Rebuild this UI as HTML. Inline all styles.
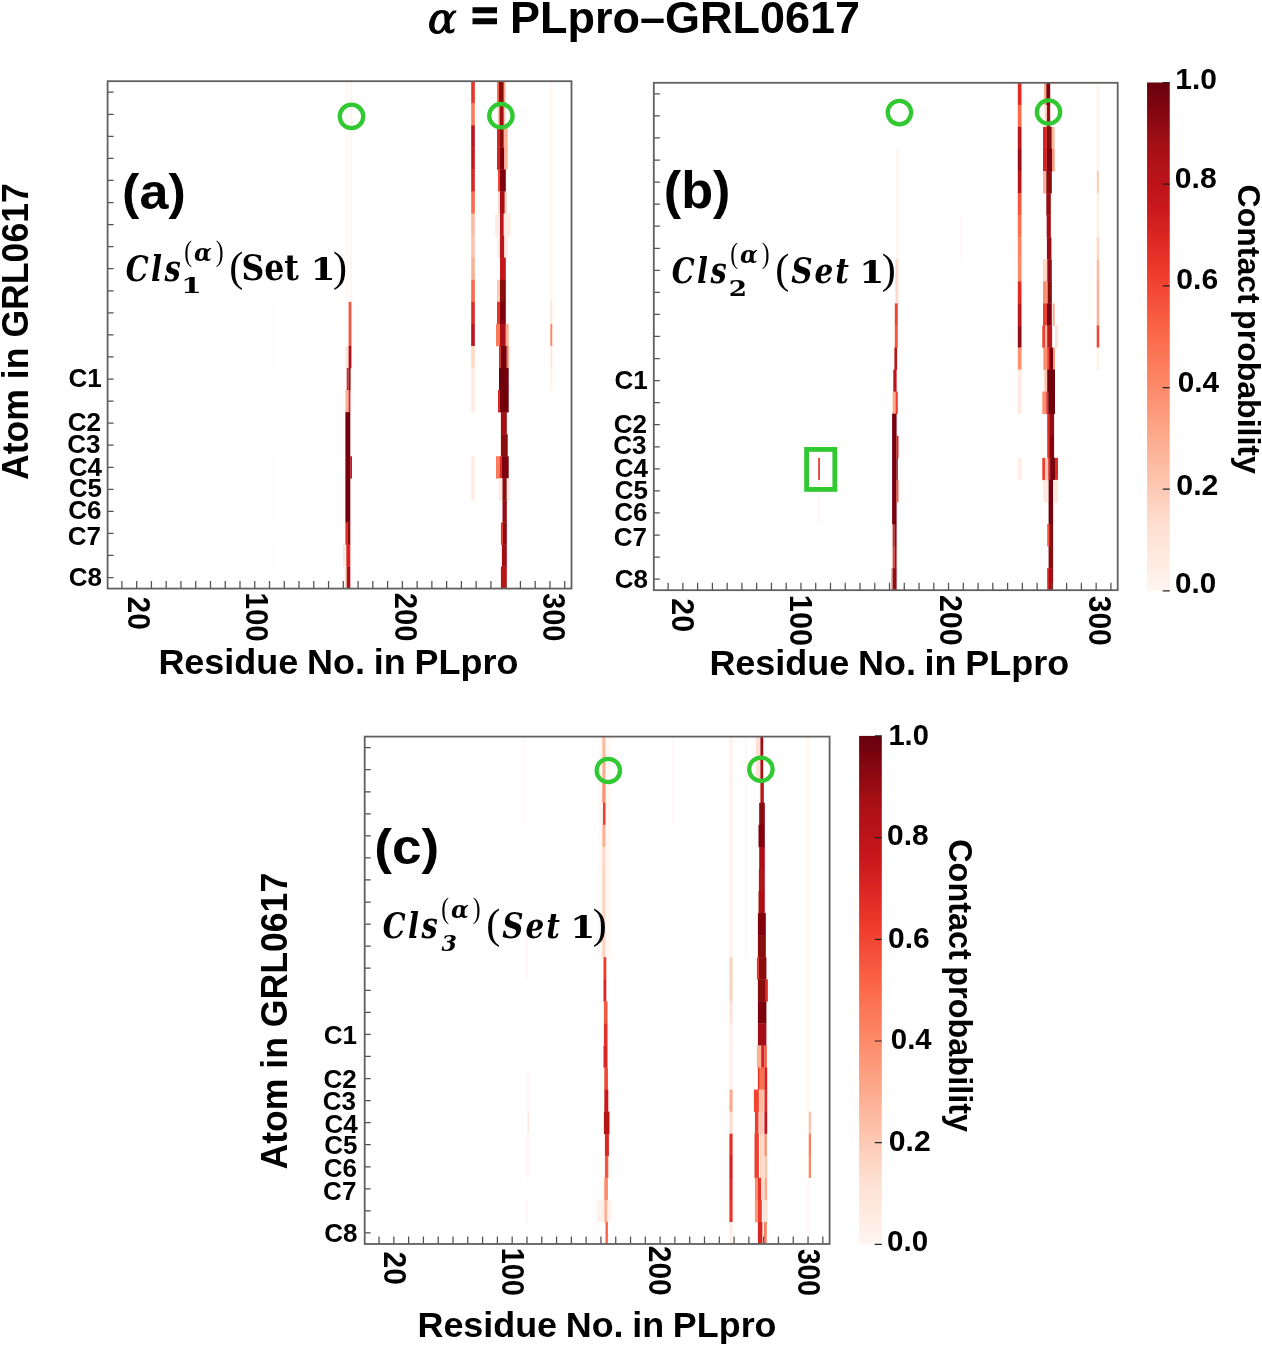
<!DOCTYPE html>
<html><head><meta charset="utf-8"><title>Contact probability maps</title>
<style>html,body{margin:0;padding:0;background:#fff}svg{display:block}text{white-space:pre}</style></head>
<body><svg width="1262" height="1345" viewBox="0 0 1262 1345">
<defs><filter id="soft" x="-5%" y="-1%" width="110%" height="102%"><feGaussianBlur stdDeviation="0.45 0.3"/></filter><linearGradient id="reds" x1="0" y1="0" x2="0" y2="1"><stop offset="0.000" stop-color="#67000d"/><stop offset="0.125" stop-color="#a50f15"/><stop offset="0.250" stop-color="#cb181d"/><stop offset="0.375" stop-color="#ef3b2c"/><stop offset="0.500" stop-color="#fb6a4a"/><stop offset="0.625" stop-color="#fc9272"/><stop offset="0.750" stop-color="#fcbba1"/><stop offset="0.875" stop-color="#fee0d2"/><stop offset="1.000" stop-color="#fff5f0"/></linearGradient></defs>
<rect width="1262" height="1345" fill="#fff"/>
<g filter="url(#soft)">
<rect x="346.00" y="81.20" width="2.00" height="220.95" fill="#fff8f4"/>
<rect x="350.00" y="81.20" width="2.50" height="220.95" fill="#fff6f2"/>
<rect x="348.60" y="301.80" width="2.80" height="22.41" fill="#f6573e"/>
<rect x="348.60" y="323.86" width="2.80" height="22.41" fill="#f6573e"/>
<rect x="345.60" y="345.92" width="3.00" height="22.41" fill="#fee4d8"/>
<rect x="348.60" y="345.92" width="2.80" height="22.41" fill="#ad1117"/>
<rect x="346.70" y="367.98" width="1.90" height="22.41" fill="#d92623"/>
<rect x="348.60" y="367.98" width="2.00" height="22.41" fill="#990c13"/>
<rect x="345.40" y="390.04" width="3.20" height="22.41" fill="#fcb196"/>
<rect x="348.60" y="390.04" width="1.80" height="22.41" fill="#d42021"/>
<rect x="345.40" y="412.10" width="4.90" height="110.65" fill="#76040f"/>
<rect x="350.30" y="456.22" width="1.70" height="22.41" fill="#c2161b"/>
<rect x="345.40" y="522.40" width="2.00" height="22.41" fill="#df2c25"/>
<rect x="347.40" y="522.40" width="2.90" height="22.41" fill="#8a0811"/>
<rect x="343.00" y="544.46" width="2.00" height="22.41" fill="#fee8dd"/>
<rect x="346.30" y="544.46" width="4.00" height="22.41" fill="#d92623"/>
<rect x="345.40" y="566.52" width="1.40" height="22.06" fill="#fcbba1"/>
<rect x="346.80" y="566.52" width="3.50" height="22.06" fill="#ad1117"/>
<rect x="471.20" y="81.20" width="3.60" height="22.41" fill="#e83429"/>
<rect x="471.20" y="103.26" width="3.60" height="22.41" fill="#fb7a5a"/>
<rect x="471.20" y="125.32" width="3.60" height="22.41" fill="#bc141a"/>
<rect x="471.20" y="147.38" width="3.60" height="22.41" fill="#c2161b"/>
<rect x="471.20" y="169.44" width="3.60" height="22.41" fill="#d92623"/>
<rect x="471.20" y="191.50" width="3.60" height="22.41" fill="#fb6a4a"/>
<rect x="471.20" y="213.56" width="3.60" height="22.41" fill="#fcbba1"/>
<rect x="471.20" y="235.62" width="3.60" height="22.41" fill="#fcc4ad"/>
<rect x="471.20" y="257.68" width="3.60" height="22.41" fill="#fcb196"/>
<rect x="471.20" y="279.74" width="3.60" height="22.41" fill="#fb6a4a"/>
<rect x="471.20" y="301.80" width="3.60" height="22.41" fill="#df2c25"/>
<rect x="471.20" y="323.86" width="3.60" height="22.41" fill="#bc141a"/>
<rect x="471.20" y="345.92" width="3.60" height="22.41" fill="#fed9c8"/>
<rect x="471.20" y="367.98" width="3.60" height="22.41" fill="#ffebe2"/>
<rect x="471.20" y="390.04" width="3.60" height="22.41" fill="#ffebe2"/>
<rect x="471.20" y="456.22" width="3.60" height="22.41" fill="#ffede4"/>
<rect x="471.20" y="478.28" width="3.60" height="22.41" fill="#ffede4"/>
<rect x="497.00" y="81.20" width="2.00" height="22.41" fill="#fb6a4a"/>
<rect x="499.00" y="81.20" width="4.80" height="22.41" fill="#8a0811"/>
<rect x="503.80" y="81.20" width="1.70" height="22.41" fill="#fcab8e"/>
<rect x="497.50" y="103.26" width="2.00" height="22.41" fill="#fdcab5"/>
<rect x="499.50" y="103.26" width="4.30" height="22.41" fill="#a30e15"/>
<rect x="503.80" y="103.26" width="1.70" height="22.41" fill="#fdcab5"/>
<rect x="497.00" y="125.32" width="3.00" height="22.41" fill="#d92623"/>
<rect x="500.00" y="125.32" width="3.80" height="22.41" fill="#8a0811"/>
<rect x="503.80" y="125.32" width="3.90" height="22.41" fill="#fcb196"/>
<rect x="497.00" y="147.38" width="3.00" height="22.41" fill="#d42021"/>
<rect x="500.00" y="147.38" width="4.40" height="22.41" fill="#800610"/>
<rect x="504.40" y="147.38" width="3.30" height="22.41" fill="#fcb196"/>
<rect x="498.00" y="169.44" width="2.00" height="22.41" fill="#f14432"/>
<rect x="500.00" y="169.44" width="5.80" height="22.41" fill="#800610"/>
<rect x="498.00" y="191.50" width="2.00" height="22.41" fill="#fed9c8"/>
<rect x="500.00" y="191.50" width="4.80" height="22.41" fill="#ad1117"/>
<rect x="504.80" y="191.50" width="2.20" height="22.41" fill="#fed9c8"/>
<rect x="495.00" y="213.56" width="5.00" height="22.41" fill="#ffede4"/>
<rect x="500.00" y="213.56" width="3.80" height="22.41" fill="#bc141a"/>
<rect x="503.80" y="213.56" width="6.80" height="22.41" fill="#ffede4"/>
<rect x="497.00" y="235.62" width="3.00" height="22.41" fill="#ffeee6"/>
<rect x="500.00" y="235.62" width="4.40" height="22.41" fill="#bc141a"/>
<rect x="504.40" y="235.62" width="3.60" height="22.41" fill="#ffeee6"/>
<rect x="500.00" y="257.68" width="5.80" height="22.41" fill="#c2161b"/>
<rect x="497.00" y="279.74" width="3.00" height="22.41" fill="#fdcab5"/>
<rect x="500.00" y="279.74" width="5.80" height="22.41" fill="#8a0811"/>
<rect x="497.00" y="301.80" width="3.00" height="22.41" fill="#e83429"/>
<rect x="500.00" y="301.80" width="5.80" height="22.41" fill="#800610"/>
<rect x="496.00" y="323.86" width="4.00" height="22.41" fill="#fb7a5a"/>
<rect x="500.00" y="323.86" width="5.80" height="22.41" fill="#ad1117"/>
<rect x="505.80" y="323.86" width="2.90" height="22.41" fill="#fcb196"/>
<rect x="499.00" y="345.92" width="1.90" height="22.41" fill="#d92623"/>
<rect x="500.90" y="345.92" width="5.90" height="22.41" fill="#76040f"/>
<rect x="506.80" y="345.92" width="1.90" height="22.41" fill="#fb7a5a"/>
<rect x="499.00" y="367.98" width="9.70" height="22.41" fill="#71020e"/>
<rect x="498.00" y="390.04" width="1.90" height="22.41" fill="#d92623"/>
<rect x="499.90" y="390.04" width="8.80" height="22.41" fill="#71020e"/>
<rect x="500.90" y="412.10" width="5.90" height="22.41" fill="#a30e15"/>
<rect x="500.90" y="434.16" width="6.80" height="22.41" fill="#8a0811"/>
<rect x="496.00" y="456.22" width="4.00" height="22.41" fill="#fb7a5a"/>
<rect x="500.00" y="456.22" width="1.90" height="22.41" fill="#d92623"/>
<rect x="501.90" y="456.22" width="6.80" height="22.41" fill="#7b0510"/>
<rect x="499.00" y="478.28" width="3.50" height="22.41" fill="#fee8dd"/>
<rect x="502.50" y="478.28" width="4.30" height="22.41" fill="#850711"/>
<rect x="506.80" y="478.28" width="3.20" height="22.41" fill="#fee8dd"/>
<rect x="502.50" y="500.34" width="4.30" height="22.41" fill="#990c13"/>
<rect x="500.90" y="522.40" width="2.00" height="22.41" fill="#e83429"/>
<rect x="502.90" y="522.40" width="3.90" height="22.41" fill="#8a0811"/>
<rect x="501.90" y="544.46" width="4.90" height="22.41" fill="#a30e15"/>
<rect x="500.90" y="566.52" width="5.90" height="22.06" fill="#b61319"/>
<rect x="550.30" y="81.20" width="2.00" height="22.41" fill="#fff5f0"/>
<rect x="550.30" y="103.26" width="2.00" height="22.41" fill="#fff5f0"/>
<rect x="550.30" y="125.32" width="2.00" height="22.41" fill="#fff5f0"/>
<rect x="550.30" y="147.38" width="2.00" height="22.41" fill="#fff5f0"/>
<rect x="550.30" y="169.44" width="2.00" height="22.41" fill="#fff5f0"/>
<rect x="550.30" y="191.50" width="2.00" height="22.41" fill="#fff5f0"/>
<rect x="550.30" y="213.56" width="2.00" height="22.41" fill="#fff5f0"/>
<rect x="550.30" y="235.62" width="2.00" height="22.41" fill="#fff5f0"/>
<rect x="550.30" y="257.68" width="2.00" height="22.41" fill="#fff5f0"/>
<rect x="550.30" y="279.74" width="2.00" height="22.41" fill="#fff5f0"/>
<rect x="550.30" y="301.80" width="2.00" height="22.41" fill="#fee4d8"/>
<rect x="550.30" y="323.86" width="2.00" height="22.41" fill="#fc8a6a"/>
<rect x="550.30" y="345.92" width="2.00" height="22.41" fill="#fee8dd"/>
<rect x="550.30" y="367.98" width="2.00" height="22.41" fill="#fff2eb"/>
<rect x="272.60" y="301.80" width="1.40" height="66.53" fill="#fff7f3"/>
<rect x="272.60" y="456.22" width="1.40" height="66.53" fill="#fff7f3"/>
<rect x="272.60" y="544.46" width="1.40" height="22.41" fill="#fff7f3"/>
</g>
<path d="M107.60 92.23h6M107.60 114.29h6M107.60 136.35h6M107.60 158.41h6M107.60 180.47h6M107.60 202.53h6M107.60 224.59h6M107.60 246.65h6M107.60 268.71h6M107.60 290.77h6M107.60 312.83h6M107.60 334.89h6M107.60 356.95h6M107.60 379.01h6M107.60 401.07h6M107.60 423.13h6M107.60 445.19h6M107.60 467.25h6M107.60 489.31h6M107.60 511.37h6M107.60 533.43h6M107.60 555.49h6M107.60 577.55h6M121.91 588.58v-7.5M136.67 588.58v-7.5M151.43 588.58v-7.5M166.19 588.58v-7.5M180.95 588.58v-7.5M195.71 588.58v-7.5M210.47 588.58v-7.5M225.23 588.58v-7.5M239.99 588.58v-7.5M254.75 588.58v-7.5M269.51 588.58v-7.5M284.27 588.58v-7.5M299.03 588.58v-7.5M313.79 588.58v-7.5M328.55 588.58v-7.5M343.31 588.58v-7.5M358.07 588.58v-7.5M372.83 588.58v-7.5M387.59 588.58v-7.5M402.35 588.58v-7.5M417.11 588.58v-7.5M431.87 588.58v-7.5M446.63 588.58v-7.5M461.39 588.58v-7.5M476.15 588.58v-7.5M490.91 588.58v-7.5M505.67 588.58v-7.5M520.43 588.58v-7.5M535.19 588.58v-7.5M549.95 588.58v-7.5M564.71 588.58v-7.5" stroke="#505050" stroke-width="1.25" fill="none"/>
<rect x="107.60" y="81.20" width="463.90" height="507.38" fill="none" stroke="#606060" stroke-width="1.8"/>
<circle cx="351.5" cy="116.4" r="11.7" fill="none" stroke="#31c931" stroke-width="4.3"/>
<circle cx="500.9" cy="115.7" r="11.7" fill="none" stroke="#31c931" stroke-width="4.3"/>
<g filter="url(#soft)">
<rect x="896.00" y="148.98" width="2.50" height="110.65" fill="#fff6f2"/>
<rect x="895.40" y="259.28" width="3.00" height="44.47" fill="#fed9c8"/>
<rect x="894.80" y="303.40" width="3.00" height="22.41" fill="#f14432"/>
<rect x="894.80" y="325.46" width="3.00" height="22.41" fill="#f6573e"/>
<rect x="894.40" y="347.52" width="2.70" height="22.41" fill="#b61319"/>
<rect x="893.30" y="369.58" width="3.30" height="22.41" fill="#bc141a"/>
<rect x="892.60" y="391.64" width="2.90" height="22.41" fill="#fcab8e"/>
<rect x="895.50" y="391.64" width="2.30" height="22.41" fill="#ef3d2d"/>
<rect x="892.10" y="413.70" width="4.50" height="110.65" fill="#76040f"/>
<rect x="896.60" y="435.76" width="1.90" height="22.41" fill="#d92623"/>
<rect x="896.60" y="457.82" width="1.20" height="22.41" fill="#990c13"/>
<rect x="896.60" y="479.88" width="1.90" height="22.41" fill="#f6573e"/>
<rect x="892.60" y="524.00" width="1.80" height="22.41" fill="#d92623"/>
<rect x="894.40" y="524.00" width="2.20" height="22.41" fill="#8a0811"/>
<rect x="892.60" y="546.06" width="1.80" height="22.41" fill="#ef3d2d"/>
<rect x="894.40" y="546.06" width="2.20" height="22.41" fill="#a30e15"/>
<rect x="891.00" y="568.12" width="1.60" height="22.06" fill="#fcab8e"/>
<rect x="892.60" y="568.12" width="4.00" height="22.06" fill="#8f0a12"/>
<rect x="1017.80" y="82.80" width="3.70" height="22.41" fill="#df2c25"/>
<rect x="1017.80" y="104.86" width="3.70" height="22.41" fill="#fb6a4a"/>
<rect x="1017.80" y="126.92" width="3.70" height="22.41" fill="#bc141a"/>
<rect x="1017.80" y="148.98" width="3.70" height="22.41" fill="#990c13"/>
<rect x="1017.80" y="171.04" width="3.70" height="22.41" fill="#b61319"/>
<rect x="1017.80" y="193.10" width="3.70" height="22.41" fill="#f6573e"/>
<rect x="1017.80" y="215.16" width="3.70" height="22.41" fill="#fb7050"/>
<rect x="1017.80" y="237.22" width="3.70" height="22.41" fill="#fc8464"/>
<rect x="1017.80" y="259.28" width="3.70" height="22.41" fill="#fc8a6a"/>
<rect x="1017.80" y="281.34" width="3.70" height="22.41" fill="#df2c25"/>
<rect x="1017.80" y="303.40" width="3.70" height="22.41" fill="#bc141a"/>
<rect x="1017.80" y="325.46" width="3.70" height="22.41" fill="#8f0a12"/>
<rect x="1017.80" y="347.52" width="3.70" height="22.41" fill="#fc9070"/>
<rect x="1017.80" y="369.58" width="3.70" height="22.41" fill="#ffebe2"/>
<rect x="1017.80" y="391.64" width="3.70" height="22.41" fill="#ffebe2"/>
<rect x="1017.80" y="457.82" width="3.70" height="22.41" fill="#ffeee6"/>
<rect x="1044.00" y="82.80" width="2.30" height="22.41" fill="#fcab8e"/>
<rect x="1046.30" y="82.80" width="3.90" height="22.41" fill="#800610"/>
<rect x="1044.50" y="104.86" width="2.40" height="22.41" fill="#fed9c8"/>
<rect x="1046.90" y="104.86" width="3.30" height="22.41" fill="#990c13"/>
<rect x="1043.00" y="126.92" width="3.90" height="22.41" fill="#d92623"/>
<rect x="1046.90" y="126.92" width="4.90" height="22.41" fill="#850711"/>
<rect x="1051.80" y="126.92" width="2.90" height="22.41" fill="#fcbba1"/>
<rect x="1043.00" y="148.98" width="3.90" height="22.41" fill="#d42021"/>
<rect x="1046.90" y="148.98" width="5.20" height="22.41" fill="#7b0510"/>
<rect x="1052.10" y="148.98" width="2.60" height="22.41" fill="#fc9a7b"/>
<rect x="1043.00" y="171.04" width="3.30" height="22.41" fill="#fcb196"/>
<rect x="1046.30" y="171.04" width="5.50" height="22.41" fill="#8a0811"/>
<rect x="1046.30" y="193.10" width="4.50" height="22.41" fill="#990c13"/>
<rect x="1046.70" y="215.16" width="4.10" height="22.41" fill="#a70f15"/>
<rect x="1046.90" y="237.22" width="4.50" height="22.41" fill="#990c13"/>
<rect x="1043.00" y="259.28" width="4.50" height="22.41" fill="#fed9c8"/>
<rect x="1047.30" y="259.28" width="4.50" height="22.41" fill="#940b13"/>
<rect x="1043.00" y="281.34" width="3.90" height="22.41" fill="#fc9070"/>
<rect x="1047.50" y="281.34" width="4.30" height="22.41" fill="#850711"/>
<rect x="1043.00" y="303.40" width="3.90" height="22.41" fill="#ef3d2d"/>
<rect x="1046.90" y="303.40" width="4.90" height="22.41" fill="#7b0510"/>
<rect x="1052.70" y="303.40" width="2.00" height="22.41" fill="#fcab8e"/>
<rect x="1042.30" y="325.46" width="2.90" height="22.41" fill="#ef3d2d"/>
<rect x="1045.20" y="325.46" width="2.00" height="22.41" fill="#fcbba1"/>
<rect x="1047.20" y="325.46" width="4.90" height="22.41" fill="#bc141a"/>
<rect x="1055.00" y="325.46" width="3.00" height="22.41" fill="#fee4d8"/>
<rect x="1043.30" y="347.52" width="3.90" height="22.41" fill="#fc9070"/>
<rect x="1047.20" y="347.52" width="2.00" height="22.41" fill="#ef3d2d"/>
<rect x="1049.20" y="347.52" width="3.90" height="22.41" fill="#7b0510"/>
<rect x="1053.10" y="347.52" width="1.90" height="22.41" fill="#fc9a7b"/>
<rect x="1044.30" y="369.58" width="2.90" height="22.41" fill="#fcc4ad"/>
<rect x="1047.20" y="369.58" width="7.80" height="22.41" fill="#71020e"/>
<rect x="1042.30" y="391.64" width="3.90" height="22.41" fill="#fc9070"/>
<rect x="1046.20" y="391.64" width="2.00" height="22.41" fill="#e83429"/>
<rect x="1048.20" y="391.64" width="6.80" height="22.41" fill="#71020e"/>
<rect x="1047.20" y="413.70" width="2.00" height="22.41" fill="#df2c25"/>
<rect x="1049.20" y="413.70" width="4.90" height="22.41" fill="#8f0a12"/>
<rect x="1047.20" y="435.76" width="2.00" height="22.41" fill="#e83429"/>
<rect x="1049.20" y="435.76" width="4.90" height="22.41" fill="#800610"/>
<rect x="1042.30" y="457.82" width="2.90" height="22.41" fill="#ef3d2d"/>
<rect x="1045.20" y="457.82" width="3.00" height="22.41" fill="#fdcab5"/>
<rect x="1048.20" y="457.82" width="1.90" height="22.41" fill="#df2c25"/>
<rect x="1050.10" y="457.82" width="4.90" height="22.41" fill="#76040f"/>
<rect x="1055.00" y="457.82" width="3.00" height="22.41" fill="#df2c25"/>
<rect x="1043.30" y="479.88" width="4.90" height="22.41" fill="#fee9df"/>
<rect x="1048.60" y="479.88" width="4.50" height="22.41" fill="#76040f"/>
<rect x="1053.10" y="479.88" width="4.90" height="22.41" fill="#fee9df"/>
<rect x="1048.60" y="501.94" width="4.50" height="22.41" fill="#76040f"/>
<rect x="1047.20" y="524.00" width="2.00" height="22.41" fill="#f6573e"/>
<rect x="1049.20" y="524.00" width="3.90" height="22.41" fill="#8a0811"/>
<rect x="1048.60" y="546.06" width="4.50" height="22.41" fill="#8a0811"/>
<rect x="1047.20" y="568.12" width="1.80" height="22.06" fill="#d92623"/>
<rect x="1049.00" y="568.12" width="4.10" height="22.06" fill="#a30e15"/>
<rect x="1096.70" y="82.80" width="2.50" height="22.41" fill="#fff3ee"/>
<rect x="1096.70" y="104.86" width="2.50" height="22.41" fill="#fff3ee"/>
<rect x="1096.70" y="126.92" width="2.50" height="22.41" fill="#fff3ee"/>
<rect x="1096.70" y="148.98" width="2.50" height="22.41" fill="#fff3ee"/>
<rect x="1096.70" y="171.04" width="2.50" height="22.41" fill="#fdd0bc"/>
<rect x="1096.70" y="193.10" width="2.50" height="22.41" fill="#fff0e9"/>
<rect x="1096.70" y="215.16" width="2.50" height="22.41" fill="#fff0e9"/>
<rect x="1096.70" y="237.22" width="2.50" height="22.41" fill="#fdd6c4"/>
<rect x="1096.70" y="259.28" width="2.50" height="22.41" fill="#fcbba1"/>
<rect x="1096.70" y="281.34" width="2.50" height="22.41" fill="#fcb196"/>
<rect x="1096.70" y="303.40" width="2.50" height="22.41" fill="#fcb196"/>
<rect x="1096.70" y="325.46" width="2.50" height="22.41" fill="#f14432"/>
<rect x="1096.70" y="347.52" width="2.50" height="22.41" fill="#fff2eb"/>
<rect x="818.20" y="457.82" width="1.70" height="22.41" fill="#e53128"/>
<rect x="818.10" y="479.88" width="1.60" height="44.47" fill="#fff6f2"/>
<rect x="960.00" y="215.16" width="1.50" height="44.47" fill="#fff8f4"/>
</g>
<path d="M653.80 93.83h6M653.80 115.89h6M653.80 137.95h6M653.80 160.01h6M653.80 182.07h6M653.80 204.13h6M653.80 226.19h6M653.80 248.25h6M653.80 270.31h6M653.80 292.37h6M653.80 314.43h6M653.80 336.49h6M653.80 358.55h6M653.80 380.61h6M653.80 402.67h6M653.80 424.73h6M653.80 446.79h6M653.80 468.85h6M653.80 490.91h6M653.80 512.97h6M653.80 535.03h6M653.80 557.09h6M653.80 579.15h6M668.11 590.18v-7.5M682.87 590.18v-7.5M697.63 590.18v-7.5M712.39 590.18v-7.5M727.15 590.18v-7.5M741.91 590.18v-7.5M756.67 590.18v-7.5M771.43 590.18v-7.5M786.19 590.18v-7.5M800.95 590.18v-7.5M815.71 590.18v-7.5M830.47 590.18v-7.5M845.23 590.18v-7.5M859.99 590.18v-7.5M874.75 590.18v-7.5M889.51 590.18v-7.5M904.27 590.18v-7.5M919.03 590.18v-7.5M933.79 590.18v-7.5M948.55 590.18v-7.5M963.31 590.18v-7.5M978.07 590.18v-7.5M992.83 590.18v-7.5M1007.59 590.18v-7.5M1022.35 590.18v-7.5M1037.11 590.18v-7.5M1051.87 590.18v-7.5M1066.63 590.18v-7.5M1081.39 590.18v-7.5M1096.15 590.18v-7.5M1110.91 590.18v-7.5" stroke="#505050" stroke-width="1.25" fill="none"/>
<rect x="653.80" y="82.80" width="463.90" height="507.38" fill="none" stroke="#606060" stroke-width="1.8"/>
<circle cx="899.4" cy="112.6" r="11.7" fill="none" stroke="#31c931" stroke-width="4.3"/>
<circle cx="1048.5" cy="112.0" r="11.7" fill="none" stroke="#31c931" stroke-width="4.3"/>
<rect x="806.6" y="449.4" width="28.2" height="40.0" fill="none" stroke="#31c931" stroke-width="4.8"/>
<g filter="url(#soft)">
<rect x="599.00" y="736.60" width="3.00" height="220.95" fill="#fff9f6"/>
<rect x="606.00" y="736.60" width="5.00" height="220.95" fill="#fff9f6"/>
<rect x="602.30" y="736.60" width="3.20" height="22.41" fill="#fcbba1"/>
<rect x="602.30" y="758.66" width="3.20" height="22.41" fill="#fcab8e"/>
<rect x="602.30" y="780.72" width="3.20" height="22.41" fill="#fc9070"/>
<rect x="602.90" y="802.78" width="2.60" height="22.41" fill="#ef3d2d"/>
<rect x="602.30" y="824.84" width="3.20" height="22.41" fill="#fcb196"/>
<rect x="602.30" y="846.90" width="3.20" height="22.41" fill="#fed9c8"/>
<rect x="602.30" y="868.96" width="3.20" height="88.59" fill="#fdd3c0"/>
<rect x="603.50" y="957.20" width="2.80" height="22.41" fill="#ee3a2b"/>
<rect x="603.50" y="979.26" width="2.80" height="22.41" fill="#d92623"/>
<rect x="603.90" y="1001.32" width="3.60" height="22.41" fill="#f6573e"/>
<rect x="603.90" y="1023.38" width="3.60" height="22.41" fill="#e22e27"/>
<rect x="603.50" y="1045.44" width="4.00" height="22.41" fill="#d92623"/>
<rect x="604.30" y="1067.50" width="3.60" height="22.41" fill="#f14432"/>
<rect x="604.30" y="1089.56" width="4.00" height="22.41" fill="#cb181d"/>
<rect x="603.90" y="1111.62" width="5.60" height="22.41" fill="#b31218"/>
<rect x="604.90" y="1133.68" width="4.00" height="22.41" fill="#d92623"/>
<rect x="604.90" y="1155.74" width="3.40" height="22.41" fill="#f6573e"/>
<rect x="604.30" y="1177.80" width="3.60" height="22.41" fill="#fc8a6a"/>
<rect x="597.00" y="1199.86" width="7.30" height="22.41" fill="#fff2eb"/>
<rect x="604.30" y="1199.86" width="3.20" height="22.41" fill="#fcb196"/>
<rect x="607.50" y="1199.86" width="3.50" height="22.41" fill="#fff2eb"/>
<rect x="605.50" y="1221.92" width="2.40" height="22.06" fill="#f96245"/>
<rect x="755.90" y="736.60" width="4.50" height="22.41" fill="#fee1d3"/>
<rect x="760.40" y="736.60" width="2.80" height="22.41" fill="#a30e15"/>
<rect x="755.90" y="758.66" width="4.50" height="22.41" fill="#fee4d8"/>
<rect x="760.40" y="758.66" width="2.80" height="22.41" fill="#ad1117"/>
<rect x="760.40" y="780.72" width="3.40" height="22.41" fill="#b61319"/>
<rect x="759.20" y="802.78" width="5.60" height="22.41" fill="#8a0811"/>
<rect x="758.50" y="824.84" width="6.30" height="22.41" fill="#800610"/>
<rect x="759.20" y="846.90" width="5.60" height="22.41" fill="#ad1117"/>
<rect x="758.90" y="868.96" width="5.90" height="22.41" fill="#b01217"/>
<rect x="758.50" y="891.02" width="6.30" height="22.41" fill="#ad1117"/>
<rect x="757.90" y="913.08" width="7.90" height="22.41" fill="#800610"/>
<rect x="757.90" y="935.14" width="7.90" height="22.41" fill="#8a0811"/>
<rect x="756.90" y="957.20" width="2.00" height="22.41" fill="#e83429"/>
<rect x="758.90" y="957.20" width="7.50" height="22.41" fill="#8a0811"/>
<rect x="757.90" y="979.26" width="7.90" height="22.41" fill="#8a0811"/>
<rect x="765.80" y="979.26" width="2.00" height="22.41" fill="#d92623"/>
<rect x="757.90" y="1001.32" width="8.50" height="22.41" fill="#7b0510"/>
<rect x="757.90" y="1023.38" width="8.50" height="22.41" fill="#a30e15"/>
<rect x="756.90" y="1045.44" width="4.30" height="22.41" fill="#fcb196"/>
<rect x="761.20" y="1045.44" width="3.20" height="22.41" fill="#d42021"/>
<rect x="764.40" y="1045.44" width="2.40" height="22.41" fill="#f6573e"/>
<rect x="757.90" y="1067.50" width="1.90" height="22.41" fill="#e83429"/>
<rect x="759.80" y="1067.50" width="4.60" height="22.41" fill="#fb7050"/>
<rect x="764.40" y="1067.50" width="2.80" height="22.41" fill="#d42021"/>
<rect x="753.90" y="1089.56" width="5.00" height="22.41" fill="#f14432"/>
<rect x="759.20" y="1089.56" width="4.60" height="22.41" fill="#fcbba1"/>
<rect x="764.40" y="1089.56" width="2.80" height="22.41" fill="#df2c25"/>
<rect x="754.90" y="1111.62" width="3.60" height="22.41" fill="#ef3d2d"/>
<rect x="759.20" y="1111.62" width="4.60" height="22.41" fill="#fcc4ad"/>
<rect x="764.40" y="1111.62" width="2.80" height="22.41" fill="#c2161b"/>
<rect x="754.50" y="1133.68" width="4.40" height="22.41" fill="#ef3d2d"/>
<rect x="759.80" y="1133.68" width="4.00" height="22.41" fill="#fed9c8"/>
<rect x="764.40" y="1133.68" width="2.40" height="22.41" fill="#fc8a6a"/>
<rect x="754.50" y="1155.74" width="4.40" height="22.41" fill="#ef3d2d"/>
<rect x="759.80" y="1155.74" width="4.00" height="22.41" fill="#fed9c8"/>
<rect x="764.40" y="1155.74" width="2.80" height="22.41" fill="#fcc4ad"/>
<rect x="754.90" y="1177.80" width="3.00" height="22.41" fill="#fc8a6a"/>
<rect x="757.90" y="1177.80" width="3.30" height="22.41" fill="#e53128"/>
<rect x="761.20" y="1177.80" width="2.60" height="22.41" fill="#fed9c8"/>
<rect x="764.40" y="1177.80" width="2.80" height="22.41" fill="#fcab8e"/>
<rect x="754.90" y="1199.86" width="3.00" height="22.41" fill="#fc9a7b"/>
<rect x="757.90" y="1199.86" width="3.90" height="22.41" fill="#ee3a2b"/>
<rect x="762.80" y="1199.86" width="5.00" height="22.41" fill="#fee4d8"/>
<rect x="757.90" y="1221.92" width="4.50" height="22.06" fill="#d92623"/>
<rect x="763.80" y="1221.92" width="3.00" height="22.06" fill="#fc8464"/>
<rect x="729.40" y="736.60" width="3.20" height="22.41" fill="#fff2eb"/>
<rect x="729.40" y="758.66" width="3.20" height="22.41" fill="#fff2eb"/>
<rect x="729.40" y="780.72" width="3.20" height="22.41" fill="#fff2eb"/>
<rect x="729.40" y="802.78" width="3.20" height="22.41" fill="#fff2eb"/>
<rect x="729.40" y="824.84" width="3.20" height="22.41" fill="#fff2eb"/>
<rect x="729.40" y="846.90" width="3.20" height="22.41" fill="#fff2eb"/>
<rect x="729.40" y="868.96" width="3.20" height="22.41" fill="#fff2eb"/>
<rect x="729.40" y="891.02" width="3.20" height="22.41" fill="#fff2eb"/>
<rect x="729.40" y="913.08" width="3.20" height="22.41" fill="#fff2eb"/>
<rect x="729.40" y="935.14" width="3.20" height="22.41" fill="#fff2eb"/>
<rect x="729.40" y="957.20" width="3.20" height="22.41" fill="#fdd3c0"/>
<rect x="729.40" y="979.26" width="3.20" height="22.41" fill="#fdd3c0"/>
<rect x="729.40" y="1001.32" width="3.20" height="22.41" fill="#fee4d8"/>
<rect x="729.40" y="1023.38" width="3.20" height="22.41" fill="#fff0e9"/>
<rect x="729.40" y="1045.44" width="3.20" height="22.41" fill="#fff0e9"/>
<rect x="729.40" y="1067.50" width="3.20" height="22.41" fill="#fff0e9"/>
<rect x="729.40" y="1089.56" width="3.20" height="22.41" fill="#fcab8e"/>
<rect x="729.40" y="1111.62" width="3.20" height="22.41" fill="#fedccc"/>
<rect x="729.40" y="1133.68" width="3.20" height="22.41" fill="#e53128"/>
<rect x="729.40" y="1155.74" width="3.20" height="22.41" fill="#d42021"/>
<rect x="729.40" y="1177.80" width="3.20" height="22.41" fill="#df2c25"/>
<rect x="729.40" y="1199.86" width="3.20" height="22.41" fill="#e83429"/>
<rect x="729.40" y="1221.92" width="3.20" height="22.06" fill="#ffede4"/>
<rect x="806.50" y="736.60" width="3.00" height="375.37" fill="#fff7f3"/>
<rect x="808.70" y="1111.62" width="2.30" height="22.41" fill="#fcc4ad"/>
<rect x="808.70" y="1133.68" width="2.30" height="22.41" fill="#fc8060"/>
<rect x="808.70" y="1155.74" width="2.30" height="22.41" fill="#fc8a6a"/>
<rect x="807.00" y="1177.80" width="3.00" height="66.18" fill="#fff8f4"/>
<rect x="524.00" y="736.60" width="2.00" height="88.59" fill="#fff8f4"/>
<rect x="525.50" y="935.14" width="2.50" height="44.47" fill="#fff8f4"/>
<rect x="527.00" y="1067.50" width="2.00" height="44.47" fill="#fff7f3"/>
<rect x="527.50" y="1111.62" width="1.50" height="22.41" fill="#fee8dd"/>
<rect x="526.00" y="1133.68" width="3.00" height="44.47" fill="#fff7f3"/>
<rect x="525.50" y="1199.86" width="3.00" height="22.41" fill="#fff7f3"/>
<rect x="672.00" y="736.60" width="1.50" height="88.59" fill="#fff8f4"/>
<rect x="745.00" y="736.60" width="2.00" height="220.95" fill="#fff9f6"/>
</g>
<path d="M364.70 747.63h6M364.70 769.69h6M364.70 791.75h6M364.70 813.81h6M364.70 835.87h6M364.70 857.93h6M364.70 879.99h6M364.70 902.05h6M364.70 924.11h6M364.70 946.17h6M364.70 968.23h6M364.70 990.29h6M364.70 1012.35h6M364.70 1034.41h6M364.70 1056.47h6M364.70 1078.53h6M364.70 1100.59h6M364.70 1122.65h6M364.70 1144.71h6M364.70 1166.77h6M364.70 1188.83h6M364.70 1210.89h6M364.70 1232.95h6M379.04 1243.98v-7.5M393.84 1243.98v-7.5M408.63 1243.98v-7.5M423.42 1243.98v-7.5M438.22 1243.98v-7.5M453.01 1243.98v-7.5M467.80 1243.98v-7.5M482.59 1243.98v-7.5M497.39 1243.98v-7.5M512.18 1243.98v-7.5M526.97 1243.98v-7.5M541.77 1243.98v-7.5M556.56 1243.98v-7.5M571.35 1243.98v-7.5M586.14 1243.98v-7.5M600.94 1243.98v-7.5M615.73 1243.98v-7.5M630.52 1243.98v-7.5M645.32 1243.98v-7.5M660.11 1243.98v-7.5M674.90 1243.98v-7.5M689.70 1243.98v-7.5M704.49 1243.98v-7.5M719.28 1243.98v-7.5M734.08 1243.98v-7.5M748.87 1243.98v-7.5M763.66 1243.98v-7.5M778.45 1243.98v-7.5M793.25 1243.98v-7.5M808.04 1243.98v-7.5M822.83 1243.98v-7.5" stroke="#505050" stroke-width="1.25" fill="none"/>
<rect x="364.70" y="736.60" width="464.90" height="507.38" fill="none" stroke="#606060" stroke-width="1.8"/>
<circle cx="608.3" cy="770.5" r="11.7" fill="none" stroke="#31c931" stroke-width="4.3"/>
<circle cx="760.9" cy="769.3" r="11.7" fill="none" stroke="#31c931" stroke-width="4.3"/>
<rect x="1147.05" y="82.50" width="22.70" height="508.40" fill="url(#reds)"/>
<path d="M1169.75 82.50h-7M1169.75 184.18h-7M1169.75 285.86h-7M1169.75 387.54h-7M1169.75 489.22h-7M1169.75 590.90h-7" stroke="#222" stroke-width="1.2" fill="none"/>
<rect x="859.10" y="735.90" width="22.70" height="508.50" fill="url(#reds)"/>
<path d="M881.80 735.90h-7M881.80 837.60h-7M881.80 939.30h-7M881.80 1041.00h-7M881.80 1142.70h-7M881.80 1244.40h-7" stroke="#222" stroke-width="1.2" fill="none"/>
<text transform="translate(427.78,32.88) scale(1.0161,1)" xml:space="preserve" style="font-family:'DejaVu Serif',serif;font-weight:normal;font-style:italic;font-size:42.22px;stroke:#000;stroke-width:1px;" fill="#000">α</text>
<text transform="translate(471.54,30.46) scale(1.1002,1)" xml:space="preserve" style="font-family:'Liberation Sans',sans-serif;font-weight:bold;font-style:normal;font-size:41.25px;stroke:#000;stroke-width:1.6px;" fill="#000">=</text>
<text transform="translate(510.05,32.70) scale(1.0080,1)" xml:space="preserve" style="font-family:'Liberation Sans',sans-serif;font-weight:bold;font-style:normal;font-size:44.64px;" fill="#000">PLpro–GRL0617</text>
<text transform="translate(27.73,480.07) rotate(-90) scale(0.9549,1)" xml:space="preserve" style="font-family:'Liberation Sans',sans-serif;font-weight:bold;font-style:normal;font-size:37.32px;" fill="#000">Atom in GRL0617</text>
<text transform="translate(287.22,1169.57) rotate(-90) scale(0.9436,1)" xml:space="preserve" style="font-family:'Liberation Sans',sans-serif;font-weight:bold;font-style:normal;font-size:37.75px;" fill="#000">Atom in GRL0617</text>
<text transform="translate(122.10,208.57) scale(1.0279,1)" xml:space="preserve" style="font-family:'Liberation Sans',sans-serif;font-weight:bold;font-style:normal;font-size:50.64px;" fill="#000">(a)</text>
<text transform="translate(663.79,207.73) scale(1.0181,1)" xml:space="preserve" style="font-family:'Liberation Sans',sans-serif;font-weight:bold;font-style:normal;font-size:51.28px;" fill="#000">(b)</text>
<text transform="translate(374.24,863.69) scale(1.0531,1)" xml:space="preserve" style="font-family:'Liberation Sans',sans-serif;font-weight:bold;font-style:normal;font-size:50.53px;" fill="#000">(c)</text>
<text transform="translate(68.40,387.23)" xml:space="preserve" style="font-family:'Liberation Sans',sans-serif;font-weight:bold;font-style:normal;font-size:26.00px;" fill="#000">C1</text>
<text transform="translate(67.76,431.10)" xml:space="preserve" style="font-family:'Liberation Sans',sans-serif;font-weight:bold;font-style:normal;font-size:26.00px;" fill="#000">C2</text>
<text transform="translate(67.16,452.76)" xml:space="preserve" style="font-family:'Liberation Sans',sans-serif;font-weight:bold;font-style:normal;font-size:26.00px;" fill="#000">C3</text>
<text transform="translate(68.78,475.72)" xml:space="preserve" style="font-family:'Liberation Sans',sans-serif;font-weight:bold;font-style:normal;font-size:26.00px;" fill="#000">C4</text>
<text transform="translate(68.70,497.28)" xml:space="preserve" style="font-family:'Liberation Sans',sans-serif;font-weight:bold;font-style:normal;font-size:26.00px;" fill="#000">C5</text>
<text transform="translate(68.16,519.34)" xml:space="preserve" style="font-family:'Liberation Sans',sans-serif;font-weight:bold;font-style:normal;font-size:26.00px;" fill="#000">C6</text>
<text transform="translate(67.72,544.70)" xml:space="preserve" style="font-family:'Liberation Sans',sans-serif;font-weight:bold;font-style:normal;font-size:26.00px;" fill="#000">C7</text>
<text transform="translate(68.70,585.92)" xml:space="preserve" style="font-family:'Liberation Sans',sans-serif;font-weight:bold;font-style:normal;font-size:26.00px;" fill="#000">C8</text>
<text transform="translate(614.40,388.83)" xml:space="preserve" style="font-family:'Liberation Sans',sans-serif;font-weight:bold;font-style:normal;font-size:26.00px;" fill="#000">C1</text>
<text transform="translate(613.76,432.70)" xml:space="preserve" style="font-family:'Liberation Sans',sans-serif;font-weight:bold;font-style:normal;font-size:26.00px;" fill="#000">C2</text>
<text transform="translate(613.16,454.36)" xml:space="preserve" style="font-family:'Liberation Sans',sans-serif;font-weight:bold;font-style:normal;font-size:26.00px;" fill="#000">C3</text>
<text transform="translate(614.78,477.32)" xml:space="preserve" style="font-family:'Liberation Sans',sans-serif;font-weight:bold;font-style:normal;font-size:26.00px;" fill="#000">C4</text>
<text transform="translate(614.70,498.88)" xml:space="preserve" style="font-family:'Liberation Sans',sans-serif;font-weight:bold;font-style:normal;font-size:26.00px;" fill="#000">C5</text>
<text transform="translate(614.16,520.94)" xml:space="preserve" style="font-family:'Liberation Sans',sans-serif;font-weight:bold;font-style:normal;font-size:26.00px;" fill="#000">C6</text>
<text transform="translate(613.72,546.30)" xml:space="preserve" style="font-family:'Liberation Sans',sans-serif;font-weight:bold;font-style:normal;font-size:26.00px;" fill="#000">C7</text>
<text transform="translate(614.70,587.52)" xml:space="preserve" style="font-family:'Liberation Sans',sans-serif;font-weight:bold;font-style:normal;font-size:26.00px;" fill="#000">C8</text>
<text transform="translate(323.70,1044.28)" xml:space="preserve" style="font-family:'Liberation Sans',sans-serif;font-weight:bold;font-style:normal;font-size:26.00px;" fill="#000">C1</text>
<text transform="translate(323.56,1087.80)" xml:space="preserve" style="font-family:'Liberation Sans',sans-serif;font-weight:bold;font-style:normal;font-size:26.00px;" fill="#000">C2</text>
<text transform="translate(322.76,1110.06)" xml:space="preserve" style="font-family:'Liberation Sans',sans-serif;font-weight:bold;font-style:normal;font-size:26.00px;" fill="#000">C3</text>
<text transform="translate(324.48,1132.52)" xml:space="preserve" style="font-family:'Liberation Sans',sans-serif;font-weight:bold;font-style:normal;font-size:26.00px;" fill="#000">C4</text>
<text transform="translate(324.30,1154.48)" xml:space="preserve" style="font-family:'Liberation Sans',sans-serif;font-weight:bold;font-style:normal;font-size:26.00px;" fill="#000">C5</text>
<text transform="translate(323.76,1176.54)" xml:space="preserve" style="font-family:'Liberation Sans',sans-serif;font-weight:bold;font-style:normal;font-size:26.00px;" fill="#000">C6</text>
<text transform="translate(323.12,1199.75)" xml:space="preserve" style="font-family:'Liberation Sans',sans-serif;font-weight:bold;font-style:normal;font-size:26.00px;" fill="#000">C7</text>
<text transform="translate(324.30,1242.32)" xml:space="preserve" style="font-family:'Liberation Sans',sans-serif;font-weight:bold;font-style:normal;font-size:26.00px;" fill="#000">C8</text>
<text transform="translate(127.72,596.60) rotate(90) scale(0.9709,1)" xml:space="preserve" style="font-family:'Liberation Sans',sans-serif;font-weight:bold;font-style:normal;font-size:30.80px;" fill="#000">20</text>
<text transform="translate(245.52,592.42) rotate(90) scale(0.9616,1)" xml:space="preserve" style="font-family:'Liberation Sans',sans-serif;font-weight:bold;font-style:normal;font-size:30.80px;" fill="#000">100</text>
<text transform="translate(394.72,592.72) rotate(90) scale(0.9497,1)" xml:space="preserve" style="font-family:'Liberation Sans',sans-serif;font-weight:bold;font-style:normal;font-size:30.80px;" fill="#000">200</text>
<text transform="translate(543.42,593.02) rotate(90) scale(0.9438,1)" xml:space="preserve" style="font-family:'Liberation Sans',sans-serif;font-weight:bold;font-style:normal;font-size:30.80px;" fill="#000">300</text>
<text transform="translate(672.09,598.29) rotate(90) scale(0.9739,1)" xml:space="preserve" style="font-family:'Liberation Sans',sans-serif;font-weight:bold;font-style:normal;font-size:31.20px;" fill="#000">20</text>
<text transform="translate(790.04,594.86) rotate(90) scale(0.9840,1)" xml:space="preserve" style="font-family:'Liberation Sans',sans-serif;font-weight:bold;font-style:normal;font-size:31.20px;" fill="#000">100</text>
<text transform="translate(939.59,594.88) rotate(90) scale(0.9776,1)" xml:space="preserve" style="font-family:'Liberation Sans',sans-serif;font-weight:bold;font-style:normal;font-size:31.20px;" fill="#000">200</text>
<text transform="translate(1089.19,595.70) rotate(90) scale(0.9615,1)" xml:space="preserve" style="font-family:'Liberation Sans',sans-serif;font-weight:bold;font-style:normal;font-size:31.20px;" fill="#000">300</text>
<text transform="translate(384.17,1251.60) rotate(90) scale(0.9709,1)" xml:space="preserve" style="font-family:'Liberation Sans',sans-serif;font-weight:bold;font-style:normal;font-size:30.80px;" fill="#000">20</text>
<text transform="translate(502.42,1247.66) rotate(90) scale(0.9389,1)" xml:space="preserve" style="font-family:'Liberation Sans',sans-serif;font-weight:bold;font-style:normal;font-size:30.80px;" fill="#000">100</text>
<text transform="translate(648.77,1245.80) rotate(90) scale(0.9720,1)" xml:space="preserve" style="font-family:'Liberation Sans',sans-serif;font-weight:bold;font-style:normal;font-size:30.80px;" fill="#000">200</text>
<text transform="translate(798.22,1248.63) rotate(90) scale(0.9216,1)" xml:space="preserve" style="font-family:'Liberation Sans',sans-serif;font-weight:bold;font-style:normal;font-size:30.80px;" fill="#000">300</text>
<text transform="translate(158.38,673.70) scale(1.0180,1)" xml:space="preserve" style="font-family:'Liberation Sans',sans-serif;font-weight:bold;font-style:normal;font-size:35.36px;word-spacing:-0.035em;" fill="#000">Residue No. in PLpro</text>
<text transform="translate(709.38,675.30) scale(1.0298,1)" xml:space="preserve" style="font-family:'Liberation Sans',sans-serif;font-weight:bold;font-style:normal;font-size:34.93px;word-spacing:-0.035em;" fill="#000">Residue No. in PLpro</text>
<text transform="translate(417.49,1336.60) scale(1.0152,1)" xml:space="preserve" style="font-family:'Liberation Sans',sans-serif;font-weight:bold;font-style:normal;font-size:35.36px;word-spacing:-0.035em;" fill="#000">Residue No. in PLpro</text>
<text transform="translate(1175.30,88.50) scale(0.9907,1)" xml:space="preserve" style="font-family:'Liberation Sans',sans-serif;font-weight:bold;font-style:normal;font-size:30.28px;" fill="#000">1.0</text>
<text transform="translate(1174.79,187.80) scale(1.0098,1)" xml:space="preserve" style="font-family:'Liberation Sans',sans-serif;font-weight:bold;font-style:normal;font-size:29.86px;" fill="#000">0.8</text>
<text transform="translate(1176.29,289.21) scale(1.0292,1)" xml:space="preserve" style="font-family:'Liberation Sans',sans-serif;font-weight:bold;font-style:normal;font-size:29.30px;" fill="#000">0.6</text>
<text transform="translate(1177.71,391.90)" xml:space="preserve" style="font-family:'Liberation Sans',sans-serif;font-weight:bold;font-style:normal;font-size:29.72px;" fill="#000">0.4</text>
<text transform="translate(1176.28,494.90) scale(1.0033,1)" xml:space="preserve" style="font-family:'Liberation Sans',sans-serif;font-weight:bold;font-style:normal;font-size:30.28px;" fill="#000">0.2</text>
<text transform="translate(1175.02,593.00) scale(0.9827,1)" xml:space="preserve" style="font-family:'Liberation Sans',sans-serif;font-weight:bold;font-style:normal;font-size:30.14px;" fill="#000">0.0</text>
<text transform="translate(1237.59,184.52) rotate(90) scale(1.0212,1)" xml:space="preserve" style="font-family:'Liberation Sans',sans-serif;font-weight:bold;font-style:normal;font-size:31.38px;word-spacing:-0.08em;" fill="#000">Contact probability</text>
<text transform="translate(888.46,745.21) scale(0.9875,1)" xml:space="preserve" style="font-family:'Liberation Sans',sans-serif;font-weight:bold;font-style:normal;font-size:29.44px;" fill="#000">1.0</text>
<text transform="translate(887.00,845.21) scale(1.0364,1)" xml:space="preserve" style="font-family:'Liberation Sans',sans-serif;font-weight:bold;font-style:normal;font-size:28.87px;" fill="#000">0.8</text>
<text transform="translate(888.00,947.60) scale(1.0069,1)" xml:space="preserve" style="font-family:'Liberation Sans',sans-serif;font-weight:bold;font-style:normal;font-size:29.72px;" fill="#000">0.6</text>
<text transform="translate(890.83,1048.80) scale(0.9732,1)" xml:space="preserve" style="font-family:'Liberation Sans',sans-serif;font-weight:bold;font-style:normal;font-size:30.14px;" fill="#000">0.4</text>
<text transform="translate(888.79,1151.21) scale(1.0292,1)" xml:space="preserve" style="font-family:'Liberation Sans',sans-serif;font-weight:bold;font-style:normal;font-size:29.30px;" fill="#000">0.2</text>
<text transform="translate(887.12,1251.10) scale(0.9894,1)" xml:space="preserve" style="font-family:'Liberation Sans',sans-serif;font-weight:bold;font-style:normal;font-size:29.86px;" fill="#000">0.0</text>
<text transform="translate(949.36,839.20) rotate(90) scale(0.9932,1)" xml:space="preserve" style="font-family:'Liberation Sans',sans-serif;font-weight:bold;font-style:normal;font-size:32.66px;word-spacing:-0.08em;" fill="#000">Contact probability</text>
<text transform="translate(671.64,283.14) scale(0.8800,1)" xml:space="preserve" style="font-family:'DejaVu Serif Condensed','DejaVu Serif',serif;font-weight:bold;font-style:italic;font-size:36.27px;letter-spacing:0.08em;" fill="#000">Cls</text>
<text transform="translate(728.85,295.90) scale(1.3331,1)" xml:space="preserve" style="font-family:'DejaVu Serif Condensed','DejaVu Serif',serif;font-weight:bold;font-style:normal;font-size:21.89px;" fill="#000">2</text>
<text transform="translate(730.26,263.23) scale(0.8248,1)" xml:space="preserve" style="font-family:'Liberation Serif',serif;font-weight:normal;font-style:normal;font-size:28.44px;" fill="#000">(</text>
<text transform="translate(739.93,263.25) scale(1.0468,1)" xml:space="preserve" style="font-family:'DejaVu Serif Condensed','DejaVu Serif',serif;font-weight:bold;font-style:italic;font-size:24.63px;" fill="#000">α</text>
<text transform="translate(761.70,263.23) scale(0.8248,1)" xml:space="preserve" style="font-family:'Liberation Serif',serif;font-weight:normal;font-style:normal;font-size:28.44px;" fill="#000">)</text>
<text transform="translate(775.31,283.13)" xml:space="preserve" style="font-family:'Liberation Serif',serif;font-weight:normal;font-style:normal;font-size:42.22px;" fill="#000">(</text>
<text transform="translate(791.17,282.95) scale(0.9306,1)" xml:space="preserve" style="font-family:'DejaVu Serif Condensed','DejaVu Serif',serif;font-weight:bold;font-style:italic;font-size:35.20px;letter-spacing:0.06em;" fill="#000">Set</text>
<text transform="translate(859.30,282.50) scale(1.2759,1)" xml:space="preserve" style="font-family:'DejaVu Serif Condensed','DejaVu Serif',serif;font-weight:bold;font-style:normal;font-size:31.35px;" fill="#000">1</text>
<text transform="translate(881.73,283.13)" xml:space="preserve" style="font-family:'Liberation Serif',serif;font-weight:normal;font-style:normal;font-size:42.22px;" fill="#000">)</text>
<text transform="translate(125.64,280.54) scale(0.8800,1)" xml:space="preserve" style="font-family:'DejaVu Serif Condensed','DejaVu Serif',serif;font-weight:bold;font-style:italic;font-size:36.27px;letter-spacing:0.08em;" fill="#000">Cls</text>
<text transform="translate(180.94,293.30) scale(1.5191,1)" xml:space="preserve" style="font-family:'DejaVu Serif Condensed','DejaVu Serif',serif;font-weight:bold;font-style:normal;font-size:21.89px;" fill="#000">1</text>
<text transform="translate(184.26,260.63) scale(0.8248,1)" xml:space="preserve" style="font-family:'Liberation Serif',serif;font-weight:normal;font-style:normal;font-size:28.44px;" fill="#000">(</text>
<text transform="translate(193.93,260.65) scale(1.0468,1)" xml:space="preserve" style="font-family:'DejaVu Serif Condensed','DejaVu Serif',serif;font-weight:bold;font-style:italic;font-size:24.63px;" fill="#000">α</text>
<text transform="translate(215.70,260.63) scale(0.8248,1)" xml:space="preserve" style="font-family:'Liberation Serif',serif;font-weight:normal;font-style:normal;font-size:28.44px;" fill="#000">)</text>
<text transform="translate(229.31,280.53)" xml:space="preserve" style="font-family:'Liberation Serif',serif;font-weight:normal;font-style:normal;font-size:42.22px;" fill="#000">(</text>
<text transform="translate(241.49,279.65) scale(1.0046,1)" xml:space="preserve" style="font-family:'DejaVu Serif Condensed','DejaVu Serif',serif;font-weight:bold;font-style:normal;font-size:34.93px;" fill="#000">Set</text>
<text transform="translate(310.50,279.90) scale(1.2759,1)" xml:space="preserve" style="font-family:'DejaVu Serif Condensed','DejaVu Serif',serif;font-weight:bold;font-style:normal;font-size:31.35px;" fill="#000">1</text>
<text transform="translate(332.93,280.53)" xml:space="preserve" style="font-family:'Liberation Serif',serif;font-weight:normal;font-style:normal;font-size:42.22px;" fill="#000">)</text>
<text transform="translate(382.64,938.14) scale(0.8800,1)" xml:space="preserve" style="font-family:'DejaVu Serif Condensed','DejaVu Serif',serif;font-weight:bold;font-style:italic;font-size:36.27px;letter-spacing:0.08em;" fill="#000">Cls</text>
<text transform="translate(441.60,950.68) scale(1.1414,1)" xml:space="preserve" style="font-family:'DejaVu Serif Condensed','DejaVu Serif',serif;font-weight:bold;font-style:italic;font-size:21.60px;" fill="#000">3</text>
<text transform="translate(441.26,918.23) scale(0.8248,1)" xml:space="preserve" style="font-family:'Liberation Serif',serif;font-weight:normal;font-style:normal;font-size:28.44px;" fill="#000">(</text>
<text transform="translate(450.93,918.25) scale(1.0468,1)" xml:space="preserve" style="font-family:'DejaVu Serif Condensed','DejaVu Serif',serif;font-weight:bold;font-style:italic;font-size:24.63px;" fill="#000">α</text>
<text transform="translate(472.70,918.23) scale(0.8248,1)" xml:space="preserve" style="font-family:'Liberation Serif',serif;font-weight:normal;font-style:normal;font-size:28.44px;" fill="#000">)</text>
<text transform="translate(486.31,938.13)" xml:space="preserve" style="font-family:'Liberation Serif',serif;font-weight:normal;font-style:normal;font-size:42.22px;" fill="#000">(</text>
<text transform="translate(502.17,937.95) scale(0.9306,1)" xml:space="preserve" style="font-family:'DejaVu Serif Condensed','DejaVu Serif',serif;font-weight:bold;font-style:italic;font-size:35.20px;letter-spacing:0.06em;" fill="#000">Set</text>
<text transform="translate(570.30,937.50) scale(1.2759,1)" xml:space="preserve" style="font-family:'DejaVu Serif Condensed','DejaVu Serif',serif;font-weight:bold;font-style:normal;font-size:31.35px;" fill="#000">1</text>
<text transform="translate(592.73,938.13)" xml:space="preserve" style="font-family:'Liberation Serif',serif;font-weight:normal;font-style:normal;font-size:42.22px;" fill="#000">)</text>
</svg></body></html>
